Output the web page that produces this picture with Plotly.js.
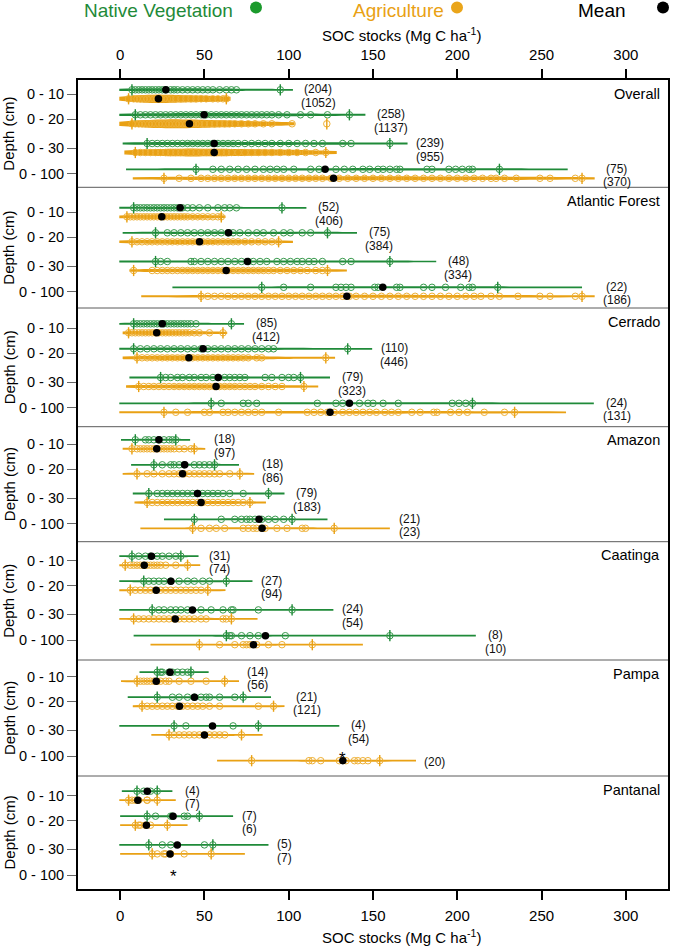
<!DOCTYPE html>
<html>
<head>
<meta charset="utf-8">
<script src="https://cdn.plot.ly/plotly-3.0.1.min.js"></script>
<style>
  html, body { margin: 0; padding: 0; background: #fff; }
  #chart { width: 673px; height: 946px; }
</style>
</head>
<body>
<div id="chart"></div>
<script>
// ---------------------------------------------------------------
// SOC stocks by biome and depth: native vegetation vs agriculture
// ---------------------------------------------------------------
const BIOMES = ['Overall', 'Atlantic Forest', 'Cerrado', 'Amazon', 'Caatinga', 'Pampa', 'Pantanal'];
const DEPTHS = ['0 - 10', '0 - 20', '0 - 30', '0 - 100'];
const X_TICKS = [0, 50, 100, 150, 200, 250, 300];

// number of observations (rows: biomes, columns: depths)
const N_NATIVE = [
  [204, 258, 239, 75],
  [52, 75, 48, 22],
  [85, 110, 79, 24],
  [18, 18, 79, 21],
  [31, 27, 24, 8],
  [14, 21, 4, null],
  [4, 7, 5, null]
];
const N_AGRI = [
  [1052, 1137, 955, 370],
  [406, 384, 334, 186],
  [412, 446, 323, 131],
  [97, 86, 183, 23],
  [74, 94, 54, 10],
  [56, 121, 54, 20],
  [7, 6, 7, null]
];

// mean SOC stock (Mg C ha-1)
const MEAN_NATIVE = [
  [27.1, 49.8, 55.8, 121.6],
  [35.6, 64.3, 75.5, 155.8],
  [25.0, 49.2, 58.2, 136.0],
  [23.0, 38.3, 45.9, 82.4],
  [18.6, 30.1, 42.9, 86.2],
  [29.6, 44.1, 54.8, null],
  [16.1, 31.4, 33.9, null]
];
const MEAN_AGRI = [
  [22.7, 41.1, 55.8, 126.6],
  [24.7, 47.1, 62.9, 134.5],
  [21.7, 40.8, 56.9, 124.5],
  [21.7, 37.0, 48.0, 84.2],
  [14.3, 21.4, 32.7, 79.1],
  [21.4, 35.2, 50.0, 132.1],
  [10.5, 15.6, 29.6, null]
];

// extent of the density curve (Mg C ha-1)
const RANGE_NATIVE = [
  [[0, 102], [0, 145], [2, 170], [4, 265]],
  [[0, 110], [2, 140], [0, 187], [31, 274]],
  [[0, 73], [0, 149], [6, 124], [0, 281]],
  [[1, 41], [7, 70], [8, 97], [26, 123]],
  [[0, 46], [0, 78], [0, 126], [8, 211]],
  [[12, 52], [5, 89], [0, 130], null],
  [[1, 31], [0, 67], [0, 88], null]
];
const RANGE_AGRI = [
  [[0, 65], [0, 103], [3, 128], [8, 281]],
  [[0, 62], [0, 102], [6, 134], [13, 281]],
  [[2, 63], [2, 127], [4, 117], [0, 264]],
  [[2, 50], [2, 79], [9, 86], [12, 160]],
  [[0, 47], [0, 62], [0, 81], [18, 144]],
  [[1, 70], [8, 97], [19, 84], [58, 175]],
  [[0, 33], [0, 40], [0, 74], null]
];

// individual observations (Mg C ha-1)
const PTS_NATIVE = [
  [
    [7, 9, 11, 13, 15, 17, 19, 21, 23, 25, 27, 30, 32, 34, 37, 40, 43, 46, 49, 52, 55, 59, 63, 66, 69, 95],
    [9, 12, 15, 18, 21, 24, 27, 30, 33, 36, 39, 42, 45, 48, 51, 54, 57, 60, 63, 66, 69, 72, 75, 78, 81, 84, 87, 90, 94, 99, 107, 113, 123, 136],
    [16, 19, 22, 25, 28, 31, 34, 37, 40, 43, 46, 49, 52, 55, 58, 61, 64, 67, 70, 74, 78, 82, 86, 90, 95, 100, 105, 110, 115, 120, 132, 137, 160],
    [45, 55, 60, 65, 70, 75, 80, 85, 89, 93, 97, 103, 113, 118, 128, 133, 138, 144, 148, 153, 156, 160, 164, 166, 182, 185, 195, 199, 203, 207, 209, 225]
  ],
  [
    [8, 10, 12, 14, 16, 18, 20, 22, 24, 26, 28, 30, 32, 34, 37, 40, 43, 47, 52, 58, 62, 65, 69, 96],
    [21, 28, 32, 36, 40, 44, 48, 52, 56, 60, 64, 67, 71, 76, 81, 85, 91, 97, 101, 108, 113, 123],
    [21, 24, 28, 42, 44, 48, 52, 56, 60, 64, 68, 72, 76, 79, 83, 87, 93, 97, 101, 105, 108, 112, 115, 120, 132, 137, 160],
    [84, 97, 113, 128, 131, 134, 137, 151, 153, 164, 166, 180, 185, 193, 202, 207, 209, 224]
  ],
  [
    [8, 10, 12, 14, 16, 18, 20, 22, 24, 26, 28, 30, 32, 34, 36, 38, 40, 42, 45, 66],
    [8, 12, 16, 20, 24, 28, 32, 36, 40, 44, 48, 52, 56, 60, 64, 68, 72, 76, 80, 84, 88, 91, 135],
    [24, 27, 30, 34, 37, 41, 44, 48, 51, 55, 58, 62, 65, 68, 71, 74, 86, 90, 96, 100, 103, 107],
    [54, 60, 73, 76, 81, 117, 128, 132, 142, 147, 150, 156, 165, 197, 201, 205, 209]
  ],
  [
    [9, 15, 17, 20, 23, 26, 29, 31, 33],
    [20, 25, 30, 32, 35, 38, 44, 47, 50, 53, 56],
    [17, 22, 25, 28, 31, 34, 37, 40, 43, 46, 49, 52, 55, 58, 61, 65, 73, 88],
    [44, 60, 68, 72, 75, 77, 80, 84, 88, 92, 97, 102]
  ],
  [
    [7, 11, 15, 18, 22, 25, 29, 33, 36],
    [14, 17, 20, 23, 26, 30, 35, 40, 44, 49, 53, 63],
    [19, 23, 26, 30, 33, 36, 40, 48, 54, 61, 66, 67, 82, 102],
    [63, 65, 66, 72, 77, 82, 98, 160]
  ],
  [
    [22, 24, 25, 29, 31, 34, 37, 40, 42],
    [22, 31, 35, 40, 44, 48, 51, 53, 59, 68, 73],
    [32, 39, 67, 82],
    null
  ],
  [
    [10, 14, 18, 22],
    [16, 21, 30, 31, 38, 40, 47],
    [17, 25, 30, 50, 55],
    null
  ]
];
const PTS_AGRI = [
  [
    [5, 8, 10, 12, 14, 16, 18, 20, 22, 24, 26, 28, 30, 33, 36, 39, 42, 45, 48, 51, 55, 58, 61, 63],
    [7, 9, 11, 13, 15, 17, 19, 21, 23, 25, 27, 29, 31, 33, 35, 37, 39, 41, 43, 45, 47, 50, 53, 56, 59, 62, 65, 68, 72, 76, 80, 85, 90, 102, 122.6],
    [9, 12, 15, 18, 21, 24, 27, 30, 33, 36, 39, 42, 45, 48, 51, 54, 57, 60, 63, 66, 70, 74, 78, 82, 86, 90, 95, 100, 105, 110, 116, 122],
    [26, 35, 42, 48, 52, 56, 60, 64, 68, 72, 76, 80, 84, 88, 92, 96, 100, 104, 108, 112, 116, 120, 125, 130, 135, 140, 145, 150, 155, 160, 165, 170, 175, 180, 185, 190, 195, 200, 205, 210, 215, 220, 223, 228, 235, 249, 255, 270, 274]
  ],
  [
    [4, 6, 8, 10, 12, 14, 16, 18, 20, 22, 24, 26, 28, 30, 32, 34, 36, 38, 40, 43, 46, 49, 52, 55, 58, 60],
    [7, 10, 13, 16, 19, 22, 25, 28, 31, 34, 37, 40, 43, 46, 49, 52, 55, 58, 61, 64, 67, 70, 74, 78, 82, 86, 90, 94],
    [8, 19, 22, 25, 28, 31, 34, 37, 40, 43, 46, 49, 52, 55, 58, 61, 64, 67, 70, 73, 76, 79, 82, 85, 88, 91, 95, 99, 103, 107, 111, 116, 120, 123],
    [48, 52, 56, 60, 64, 68, 72, 76, 80, 84, 88, 92, 96, 100, 104, 108, 112, 116, 120, 124, 128, 132, 136, 140, 145, 150, 155, 160, 165, 170, 175, 180, 185, 190, 195, 200, 205, 210, 214, 220, 225, 236, 249, 255, 270, 274]
  ],
  [
    [5, 7, 9, 11, 13, 15, 17, 19, 21, 23, 25, 27, 29, 31, 33, 35, 37, 39, 41, 44, 47, 53, 61],
    [10, 13, 16, 19, 22, 25, 28, 31, 34, 37, 40, 43, 46, 49, 52, 55, 58, 61, 64, 67, 70, 73, 76, 81, 84, 122],
    [11, 14, 17, 20, 23, 26, 29, 32, 35, 38, 41, 44, 47, 50, 53, 56, 59, 62, 65, 68, 71, 74, 77, 80, 84, 88, 92, 96, 109],
    [26, 33, 40, 50, 53, 61, 64, 68, 72, 76, 80, 84, 94, 111, 115, 119, 123, 127, 132, 136, 140, 144, 148, 152, 157, 161, 165, 173, 178, 186, 188, 196, 201, 206, 216, 228, 234]
  ],
  [
    [7, 10, 12, 14, 16, 18, 20, 22, 24, 26, 28, 30, 32, 35, 38, 42, 44],
    [10, 16, 20, 25, 29, 32, 35, 38, 41, 44, 47, 50, 53, 56, 59, 65, 71],
    [16, 19, 22, 25, 28, 31, 34, 37, 40, 43, 46, 49, 52, 55, 58, 61, 64, 67, 70, 73, 77],
    [43, 48, 53, 57, 62, 73, 76, 79, 81, 84, 86, 93, 99, 108, 110, 127]
  ],
  [
    [3, 6, 8, 10, 12, 14, 16, 18, 20, 22, 24, 27, 33, 40],
    [6, 9, 12, 15, 18, 21, 24, 27, 30, 33, 36, 39, 42, 45, 48, 52],
    [8, 11, 14, 17, 20, 23, 26, 29, 32, 35, 38, 41, 44, 48, 51, 61, 63, 66],
    [47, 59, 68, 73, 75, 77, 81, 88, 96, 114]
  ],
  [
    [10, 12, 14, 16, 18, 20, 22, 24, 27, 29, 35, 42, 51, 62],
    [13, 16, 19, 22, 25, 28, 31, 34, 37, 40, 43, 46, 49, 53, 59, 82, 91],
    [29, 32, 35, 38, 41, 44, 47, 50, 53, 56, 59, 62, 72],
    [78, 112, 114, 119, 130, 134, 139, 141, 144, 147, 154]
  ],
  [
    [5, 7, 9, 11, 16, 16, 22],
    [9, 11, 12, 15, 18, 28],
    [19, 22, 26, 27, 30, 38, 54],
    null
  ]
];

// ---------------------------------------------------------------
// geometry: the y axis runs in screen pixels (1 unit = 1 px)
// ---------------------------------------------------------------
const W = 673, H = 946;
const M = { l: 78, r: 5, t: 80, b: 57 };
const X_RANGE = [-25, 325];
const PLOT_TOP = 80, PLOT_BOTTOM = 889;
const PANEL_TOPS = [80, 187.3, 308, 426.7, 541.7, 660, 776];
const FIRST_TICK = [94.3, 212.3, 328.3, 444.3, 560.7, 676.7, 795.7];
const DEPTH_STEP = [0, 25, 53.7, 79.5];
const ROW_OFFSET = 4.5;
const NOTE_MARKS = [ // asterisks for depths without data
  { b: 5, d: 3, x: 132.1, dy: 2.5 },
  { b: 6, d: 3, x: 31.9, dy: 1.5 }
];

const GREEN = '#1f8a39', GREEN_PT = '#38994c';
const ORANGE = '#e9a114', ORANGE_PT = '#eeb035';
const FONT = 'Liberation Sans, Arial, Helvetica, sans-serif';
const N_MAX = 1137;

const tickY = (b, d) => FIRST_TICK[b] + DEPTH_STEP[d];
const paperX = px => (px - M.l) / (W - M.l - M.r);
const paperY = py => (H - M.b - py) / (H - M.t - M.b);

const SERIES = [
  { n: N_NATIVE, mean: MEAN_NATIVE, range: RANGE_NATIVE, pts: PTS_NATIVE, line: GREEN, pt: GREEN_PT, dy: -ROW_OFFSET },
  { n: N_AGRI, mean: MEAN_AGRI, range: RANGE_AGRI, pts: PTS_AGRI, line: ORANGE, pt: ORANGE_PT, dy: ROW_OFFSET }
];

const traces = [];
const meanX = [], meanY = [];
const caps = SERIES.map(() => ({ x: [], y: [] }));

SERIES.forEach((s, si) => {
  BIOMES.forEach((_, b) => {
    DEPTHS.forEach((_, d) => {
      const pts = s.pts[b][d];
      if (!pts) return;
      const y = tickY(b, d) + s.dy;
      traces.push({
        type: 'violin', orientation: 'h',
        x: pts, y0: y,
        spanmode: 'manual', span: s.range[b][d],
        width: 0.2 + 7 * s.n[b][d] / N_MAX,
        scalemode: 'width', side: 'both',
        line: { color: s.line, width: 1.7 },
        fillcolor: s.line,
        points: 'all', jitter: 0, pointpos: 0,
        marker: { symbol: 'circle-open', size: 6.5, color: s.pt, line: { width: 1 } },
        box: { visible: false }, meanline: { visible: false },
        hoverinfo: 'skip', showlegend: false
      });
      caps[si].x.push(Math.min(...pts), Math.max(...pts));
      caps[si].y.push(y, y);
      meanX.push(s.mean[b][d]);
      meanY.push(y);
    });
  });
});

// vertical bars on the lowest and highest observation of each row
SERIES.forEach((s, si) => {
  traces.push({
    type: 'scatter', mode: 'markers', x: caps[si].x, y: caps[si].y,
    marker: { symbol: 'line-ns-open', size: 8, color: s.line, line: { color: s.line, width: 1.4 } },
    hoverinfo: 'skip', showlegend: false
  });
});

// means
traces.push({
  type: 'scatter', mode: 'markers', x: meanX, y: meanY,
  marker: { symbol: 'circle', size: 7.5, color: '#000' },
  hoverinfo: 'skip', showlegend: false
});

// carrier for the top tick labels
traces.push({ type: 'scatter', x: [], y: [], xaxis: 'x2', yaxis: 'y', hoverinfo: 'skip', showlegend: false });

// ---------------------------------------------------------------
// annotations and shapes
// ---------------------------------------------------------------
const annotations = [];
const shapes = [];
const labelWidth = s => [...s].reduce((a, c) => a + ('()'.includes(c) ? 4 : 6.67), 0);

BIOMES.forEach((name, b) => {
  const top = PANEL_TOPS[b];
  const bottom = b + 1 < PANEL_TOPS.length ? PANEL_TOPS[b + 1] : PLOT_BOTTOM;

  annotations.push({
    text: name, xref: 'paper', yref: 'y', x: 1, xshift: -6, y: top + 13.5,
    xanchor: 'right', yanchor: 'middle', showarrow: false,
    font: { family: FONT, size: 14.5, color: '#000' }
  });
  annotations.push({
    text: 'Depth (cm)', xref: 'paper', yref: 'y', x: paperX(9), y: (top + bottom) / 2,
    textangle: -90, xanchor: 'center', yanchor: 'middle', showarrow: false,
    font: { family: FONT, size: 15, color: '#000' }
  });
  if (b > 0) {
    shapes.push({
      type: 'line', xref: 'paper', yref: 'y', x0: 0, x1: 1, y0: top, y1: top,
      line: { color: '#5a5a5a', width: 1 }
    });
  }

  DEPTHS.forEach((_, d) => {
    const items = SERIES.map(s => s.n[b][d] == null ? null : { text: '(' + s.n[b][d] + ')', end: s.range[b][d][1] });
    const present = items.filter(Boolean);
    if (!present.length) return;
    const end = Math.max(...present.map(p => p.end));
    const wMax = Math.max(...present.map(p => labelWidth(p.text)));
    const ys = present.length === 2
      ? [tickY(b, d) - 5, tickY(b, d) + 8.5]
      : [tickY(b, d) + (items[1] ? ROW_OFFSET + 1 : -ROW_OFFSET)];
    present.forEach((p, i) => {
      annotations.push({
        text: p.text, xref: 'x', yref: 'y', x: end, xshift: 9 + wMax / 2, y: ys[i],
        xanchor: 'center', yanchor: 'middle', showarrow: false,
        font: { family: FONT, size: 12, color: '#111' }
      });
    });
  });
});

NOTE_MARKS.forEach(m => {
  annotations.push({
    text: '*', xref: 'x', yref: 'y', x: m.x, y: tickY(m.b, m.d) + m.dy,
    xanchor: 'center', yanchor: 'middle', showarrow: false,
    font: { family: FONT, size: 17, color: '#000' }
  });
});

// axis titles
const axisTitle = 'SOC stocks (Mg C ha<sup>-1</sup>)';
annotations.push({
  text: axisTitle, xref: 'x', yref: 'paper', x: 167, y: paperY(34.5),
  xanchor: 'center', yanchor: 'middle', showarrow: false,
  font: { family: FONT, size: 15, color: '#000' }
});
annotations.push({
  text: axisTitle, xref: 'x', yref: 'paper', x: 167, y: paperY(936),
  xanchor: 'center', yanchor: 'middle', showarrow: false,
  font: { family: FONT, size: 15, color: '#000' }
});

// key at the top
const KEY = [
  { text: 'Native Vegetation', color: GREEN, tx: 158, dot: '#1b9a2c', dx: 256 },
  { text: 'Agriculture', color: ORANGE, tx: 398, dot: '#eaa51a', dx: 457 },
  { text: 'Mean', color: '#000', tx: 602, dot: '#000', dx: 663 }
];
KEY.forEach(k => {
  annotations.push({
    text: k.text, xref: 'paper', yref: 'paper', x: paperX(k.tx), y: paperY(10.5),
    xanchor: 'center', yanchor: 'middle', showarrow: false,
    font: { family: FONT, size: 19, color: k.color }
  });
  shapes.push({
    type: 'circle', xref: 'paper', yref: 'paper',
    xsizemode: 'pixel', ysizemode: 'pixel',
    xanchor: paperX(k.dx), yanchor: paperY(7.5),
    x0: -6, x1: 6, y0: -6, y1: 6,
    fillcolor: k.dot, line: { width: 0 }
  });
});

// depth tick labels for every panel
const yTickVals = [], yTickText = [];
BIOMES.forEach((_, b) => DEPTHS.forEach((lab, d) => { yTickVals.push(tickY(b, d)); yTickText.push(lab); }));

const layout = {
  width: W, height: H,
  margin: M,
  paper_bgcolor: '#fff', plot_bgcolor: '#fff',
  violinmode: 'overlay',
  showlegend: false,
  font: { family: FONT, color: '#000' },
  xaxis: {
    range: X_RANGE, tickvals: X_TICKS, ticktext: X_TICKS.map(String),
    ticks: 'outside', ticklen: 9, tickwidth: 2, tickcolor: '#000',
    showline: true, linewidth: 2, linecolor: '#000', mirror: 'ticks',
    showgrid: false, zeroline: false,
    tickfont: { family: FONT, size: 15, color: '#000' }, ticklabelstandoff: 3
  },
  xaxis2: {
    overlaying: 'x', side: 'top', anchor: 'y', range: X_RANGE,
    tickvals: X_TICKS, ticktext: X_TICKS.map(String),
    ticks: 'outside', ticklen: 10, tickwidth: 2, tickcolor: '#000',
    showline: false, showgrid: false, zeroline: false,
    tickfont: { family: FONT, size: 15, color: '#000' }, ticklabelstandoff: 3
  },
  yaxis: {
    range: [PLOT_BOTTOM, PLOT_TOP], tickvals: yTickVals, ticktext: yTickText,
    ticks: 'outside', ticklen: 9, tickwidth: 1, tickcolor: '#666',
    showline: true, linewidth: 2, linecolor: '#000', mirror: true,
    showgrid: false, zeroline: false,
    tickfont: { family: FONT, size: 14.5, color: '#000' }
  },
  annotations: annotations,
  shapes: shapes
};

Plotly.newPlot('chart', traces, layout, { staticPlot: true, displayModeBar: false });
</script>
</body>
</html>
